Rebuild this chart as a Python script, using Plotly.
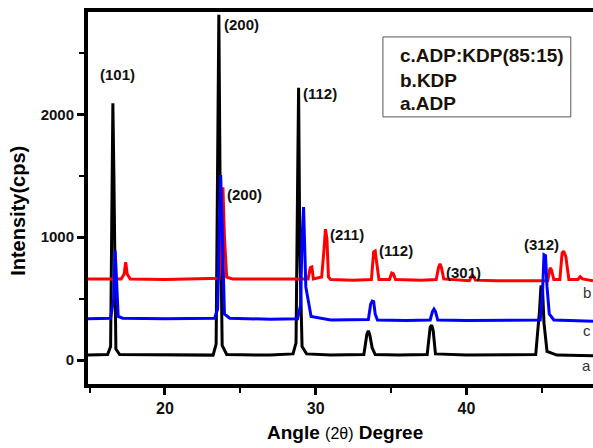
import plotly.graph_objects as go

# a.ADP (black)
a_x = [14.9, 16.2, 16.4, 16.5, 16.55, 16.62, 16.75, 17.0, 20.0, 23.2, 23.4, 23.5, 23.58, 23.66, 23.8, 24.1,
       27.0, 28.5, 28.7, 28.8, 28.87, 28.95, 29.1, 29.4, 31.0, 33.2, 33.4, 33.5, 33.6, 33.75, 33.95, 35.5,
       37.4, 37.6, 37.7, 37.8, 37.95, 40.0, 44.6, 44.85, 44.95, 45.05, 45.15, 45.35, 46.0, 48.4]
a_y = [40, 45, 110, 1540, 2090, 1480, 90, 45, 40, 40, 130, 1580, 2810, 1480, 120, 45,
       40, 50, 140, 1380, 2215, 890, 110, 50, 40, 45, 210, 238, 200, 100, 45, 40,
       45, 268, 285, 238, 50, 40, 45, 400, 605, 585, 300, 70, 40, 35]

# b.KDP (red)
b_x = [14.9, 17.1, 17.3, 17.4, 17.5, 17.7, 20, 23.6, 23.75, 23.85, 23.95, 24.1, 24.5, 27, 29.5, 29.65,
       29.75, 29.85, 30.4, 30.55, 30.65, 30.75, 30.85, 31.0, 32.5, 33.7, 33.85, 33.95, 34.05, 34.2, 34.9,
       35.05, 35.15, 35.3, 37.0, 38.0, 38.15, 38.25, 38.35, 38.5, 40.2, 40.4, 40.6, 42, 45.4, 45.55, 45.65,
       45.8, 46.2, 46.35, 46.45, 46.6, 46.8, 47.4, 47.55, 47.7, 48.4]
b_y = [660, 660, 700, 797, 700, 660, 655, 665, 1000, 1405, 1000, 675, 660, 660, 660, 752,
       757, 660, 675, 890, 1065, 990, 675, 655, 650, 655, 880, 887, 790, 655, 655,
       708, 703, 655, 650, 655, 752, 782, 752, 660, 645, 695, 650, 645, 645, 750, 732,
       655, 655, 870, 887, 840, 655, 655, 678, 660, 645]

# c.ADP:KDP(85:15) (blue)
c_x = [14.9, 16.4, 16.6, 16.7, 16.78, 16.9, 17.2, 20, 23.3, 23.5, 23.6, 23.7, 23.8, 23.95, 24.3, 27,
       28.8, 29.0, 29.1, 29.2, 29.35, 29.7, 31, 33.5, 33.65, 33.75, 33.85, 33.95, 34.1, 36, 37.6, 37.75,
       37.85, 37.95, 38.1, 40, 44.9, 45.05, 45.15, 45.25, 45.35, 45.5, 45.8, 48.4]
c_y = [336, 340, 495, 890, 690, 355, 340, 336, 340, 415, 990, 1505, 1090, 375, 340, 332,
       336, 445, 990, 1245, 595, 355, 326, 330, 455, 480, 475, 375, 326, 322, 326, 395,
       415, 395, 326, 322, 326, 545, 857, 850, 595, 375, 326, 316]

peak_labels = ["(101)", "(200)", "(200)", "(112)", "(211)", "(112)", "(301)", "(312)"]
peak_label_x = [16.86, 25.05, 25.31, 30.3, 32.08, 35.36, 39.83, 44.99]
peak_label_y = [2323, 2734, 1347, 2172, 1025, 895, 716, 938]

curve_tags = ["a", "c", "b"]
curve_tag_y = [-46, 238, 553]
legend_lines = ["c.ADP:KDP(85:15)", "b.KDP", "a.ADP"]

FONT = "Arial, Liberation Sans, sans-serif"

fig = go.Figure()
fig.add_trace(go.Scatter(x=a_x, y=a_y, mode="lines", line=dict(color="#000000", width=3), name="a.ADP"))
fig.add_trace(go.Scatter(x=b_x, y=b_y, mode="lines", line=dict(color="#FF0000", width=3), name="b.KDP"))
fig.add_trace(go.Scatter(x=c_x, y=c_y, mode="lines", line=dict(color="#0000FF", width=3), name="c.ADP:KDP(85:15)"))

annotations = []
for t, x, y in zip(peak_labels, peak_label_x, peak_label_y):
    annotations.append(dict(x=x, y=y, xref="x", yref="y", text="<b>%s</b>" % t, showarrow=False,
                            font=dict(family=FONT, size=15, color="#111111"),
                            xanchor="center", yanchor="middle"))
for t, y in zip(curve_tags, curve_tag_y):
    annotations.append(dict(x=48.0, y=y, xref="x", yref="y", text=t, showarrow=False,
                            font=dict(family=FONT, size=15, color="#333333"),
                            xanchor="center", yanchor="middle"))
for t, y in zip(legend_lines, [0.882, 0.815, 0.753]):
    annotations.append(dict(x=0.614, y=y, xref="paper", yref="paper", text="<b>%s</b>" % t, showarrow=False,
                            font=dict(family=FONT, size=19, color="#1a1208"),
                            xanchor="left", yanchor="middle"))
# axis titles
annotations.append(dict(x=-0.139, y=0.465, xref="paper", yref="paper", text="<b>Intensity(cps)</b>",
                        textangle=-90, showarrow=False, font=dict(family=FONT, size=20, color="#000000"),
                        xanchor="center", yanchor="middle"))
annotations.append(dict(x=0.508, y=-0.13, xref="paper", yref="paper",
                        text="<b>Angle</b> <span style='font-size:16px'>(2θ)</span> <b>Degree</b>",
                        showarrow=False, font=dict(family=FONT, size=19, color="#000000"),
                        xanchor="center", yanchor="middle"))

fig.update_layout(
    width=593, height=448,
    margin=dict(l=88, r=0, t=12, b=64),
    paper_bgcolor="white", plot_bgcolor="white",
    showlegend=False,
    annotations=annotations,
    shapes=[dict(type="rect", xref="paper", yref="paper", x0=0.584, x1=0.956, y0=0.718, y1=0.933,
                 line=dict(color="#555555", width=1), fillcolor="white", layer="above")],
    xaxis=dict(range=[14.9, 48.4], showgrid=False, zeroline=False,
               showline=True, linewidth=4, linecolor="black", mirror=True,
               ticks="outside", ticklen=7, tickwidth=3, tickcolor="black",
               tickvals=[20, 30, 40], ticktext=["<b>20</b>", "<b>30</b>", "<b>40</b>"],
               tickfont=dict(family=FONT, size=16, color="#111111"),
               minor=dict(tickvals=[15, 25, 35, 45], ticks="outside", ticklen=5, tickwidth=2, tickcolor="black")),
    yaxis=dict(range=[-195, 2832], showgrid=False, zeroline=False,
               showline=True, linewidth=4, linecolor="black", mirror=False,
               ticks="outside", ticklen=7, tickwidth=3, tickcolor="black",
               tickvals=[0, 1000, 2000], ticktext=["<b>0</b>", "<b>1000</b>", "<b>2000</b>"],
               tickfont=dict(family=FONT, size=15, color="#111111"),
               minor=dict(tickvals=[500, 1500, 2500], ticks="outside", ticklen=5, tickwidth=2, tickcolor="black")),
)

fig.write_html("out.html", config={"displayModeBar": False},
               post_script="document.body.style.margin='0';document.body.style.overflow='hidden';")
